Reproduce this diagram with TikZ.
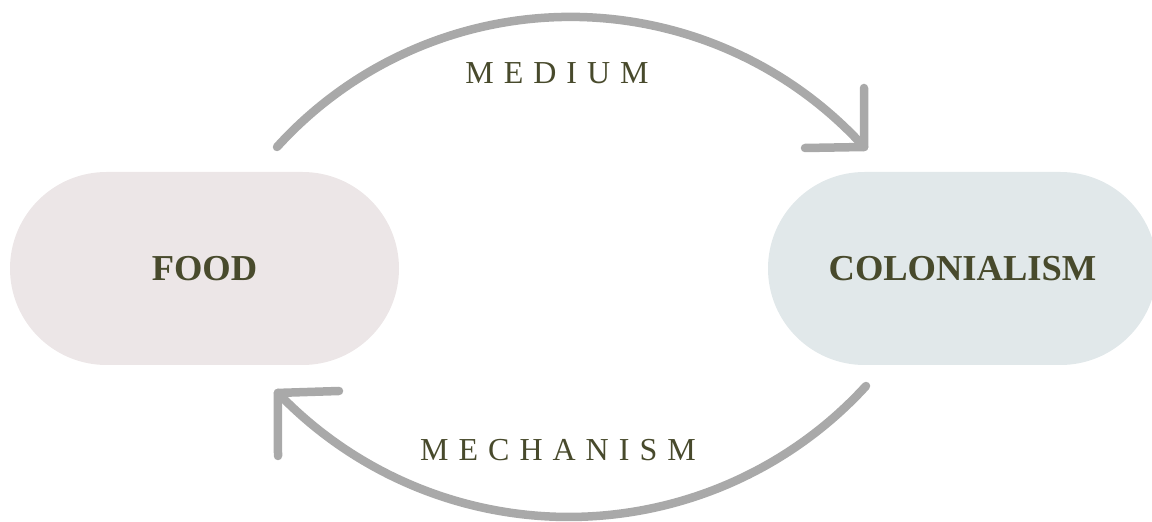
\documentclass[tikz,border=0pt]{standalone}
\usepackage{fontspec}
\setmainfont{Liberation Serif}
\definecolor{txtolive}{HTML}{484A2C}
\definecolor{foodfill}{HTML}{ECE6E7}
\definecolor{colfill}{HTML}{E1E8EA}
\definecolor{arcgray}{HTML}{A9A9A9}
\newcommand{\ls}{\hspace{10pt}}
\begin{document}
\begin{tikzpicture}[x=1pt,y=1pt,
  pill/.style={rectangle, rounded corners=96.5pt, minimum width=389pt, minimum height=193pt,
    inner sep=0pt, text=txtolive, font=\fontsize{36.5}{40}\selectfont\bfseries},
  lbl/.style={inner sep=0pt, text=txtolive, font=\fontsize{32}{36}\selectfont},
  conn/.style={draw=arcgray, line width=8.5pt, line cap=round, line join=round}]
\useasboundingbox (0,0) rectangle (1152,522);
\node[pill, fill=foodfill] (food) at (204.5,253.5) {FOOD};
\node[pill, fill=colfill] (col) at (962.5,253.5) {COLONIALISM};
\node[lbl] (medium) at (557,449) {M\ls E\ls D\ls I\ls U\ls M};
\node[lbl] (mech) at (558,72) {M\ls E\ls C\ls H\ls A\ls N\ls I\ls S\ls M};
% top arc: FOOD -> COLONIALISM
\coordinate (t0) at (277,375);
\draw[conn] (t0) arc[start angle=137.8, end angle=42.2, radius=396.3pt] coordinate (t1);
\coordinate (t1a) at (864,434);
\coordinate (t1b) at (805,374);
\draw[conn] (t1a) -- (t1) -- (t1b);
% bottom arc: COLONIALISM -> FOOD
\coordinate (b0) at (866,136);
\draw[conn] (b0) arc[start angle=-42.45, end angle=-136.2, radius=402.9pt] coordinate (b1);
\coordinate (b1a) at (278,66);
\coordinate (b1b) at (339,131);
\draw[conn] (b1a) -- (b1) -- (b1b);
\end{tikzpicture}
\end{document}
